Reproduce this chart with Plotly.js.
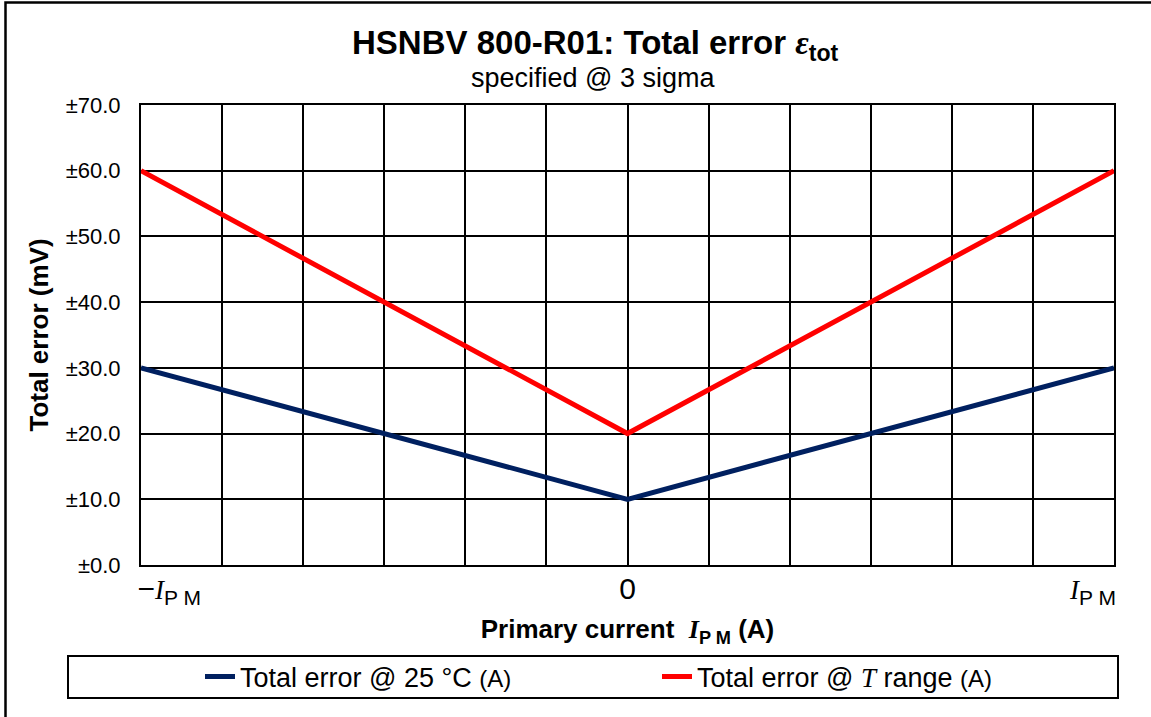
<!DOCTYPE html>
<html>
<head>
<meta charset="utf-8">
<script src="https://cdn.plot.ly/plotly-3.0.1.min.js"></script>
<style>html,body{margin:0;padding:0;background:#fff;}</style>
</head>
<body>
<div id="chart" style="width:1151px;height:717px;"></div>
<script>
// Primary current as fraction of I_PM
const currentFrac = [-1, 0, 1];
const error25C = [30, 10, 30];
const errorTRange = [60, 20, 60];
const gridFracs = [-1, -5/6, -4/6, -3/6, -2/6, -1/6, 0, 1/6, 2/6, 3/6, 4/6, 5/6, 1];
const labelFracs = [-0.942, 0, 0.957];
const serifI = '<span style="font-family:\'Liberation Serif\',\'DejaVu Serif\',serif;font-size:27px"><i>I</i></span>';
const xTickText = ['\u2212' + serifI + '<sub>P M</sub>', '0', serifI + '<sub>P M</sub>'];
const seriesNames = ['Total error @ 25 °C <span style="font-size:24px">(A)</span>',
  'Total error @ <span style="font-family:\'Liberation Serif\',serif"><i>T</i></span> range <span style="font-size:24px">(A)</span>'];

const L = 141, R = 1114, T = 105, B = 565, W = 1151, H = 717;
const px = x => (x - L) / (R - L);
const py = y => (B - y) / (B - T);

const traces = [
  {x: currentFrac, y: error25C, name: seriesNames[0], type: 'scatter', mode: 'lines',
   line: {color: '#002060', width: 5}},
  {x: currentFrac, y: errorTRange, name: seriesNames[1], type: 'scatter', mode: 'lines',
   xaxis: 'x2', line: {color: '#FF0000', width: 5}}
];

const layout = {
  width: W, height: H,
  margin: {l: L, r: W - R, t: T, b: H - B, pad: 0},
  paper_bgcolor: '#fff', plot_bgcolor: '#fff',
  font: {family: 'Liberation Sans, Arial, sans-serif', color: '#000'},
  showlegend: true,
  legend: {orientation: 'h', x: px(200), xanchor: 'left', y: py(677), yanchor: 'middle',
    font: {size: 27, color: '#000'}, entrywidth: 412, entrywidthmode: 'pixels',
    bgcolor: 'rgba(0,0,0,0)', borderwidth: 0},
  xaxis: {range: [-1, 1], tickvals: gridFracs, showticklabels: false, showgrid: true,
    gridcolor: '#000', gridwidth: 2, zeroline: false, showline: true, mirror: true,
    linecolor: '#000', linewidth: 2, ticks: '',
    title: {text: '<b>Primary current  <span style="font-family:\'Liberation Serif\',serif"><i>I</i></span><sub>P M</sub> (A)</b>',
      font: {size: 26, color: '#000'}, standoff: 54}},
  xaxis2: {matches: 'x', overlaying: 'x', side: 'bottom', tickvals: labelFracs, ticktext: xTickText,
    showgrid: false, zeroline: false, showline: false, ticks: '',
    tickfont: {size: 30, color: '#000'}, ticklabelstandoff: 3},
  yaxis: {range: [0, 70], dtick: 10, tick0: 0, tickprefix: '±', tickformat: '.1f',
    showgrid: true, gridcolor: '#000', gridwidth: 2, zeroline: false, showline: true,
    mirror: true, linecolor: '#000', linewidth: 2, ticks: '', tickfont: {size: 22, color: '#000'},
    ticklabelstandoff: 14,
    title: {text: '<b>Total error (mV)</b>', font: {size: 26, color: '#000'}, standoff: 10}},
  annotations: [
    {xref: 'paper', yref: 'paper', x: px(595), y: py(45), xanchor: 'center', yanchor: 'middle',
     showarrow: false, font: {size: 33, color: '#000'},
     text: '<b>HSNBV 800-R01: Total error <span style="font-family:\'Liberation Serif\',serif"><i>ε</i></span><sub>tot</sub></b>'},
    {xref: 'paper', yref: 'paper', x: px(593), y: py(78), xanchor: 'center', yanchor: 'middle',
     showarrow: false, font: {size: 27, color: '#000'}, text: 'specified @ 3 sigma'}
  ],
  shapes: [
    {type: 'rect', xref: 'paper', yref: 'paper', x0: px(5.5), x1: px(1165), y0: py(730), y1: py(2.5),
     line: {color: '#000', width: 2.5}, fillcolor: 'rgba(0,0,0,0)', layer: 'below'},
    {type: 'rect', xref: 'paper', yref: 'paper', x0: px(68), x1: px(1118), y0: py(698), y1: py(656),
     line: {color: '#000', width: 2}, fillcolor: 'rgba(0,0,0,0)'}
  ]
};

Plotly.newPlot('chart', traces, layout, {displayModeBar: false, staticPlot: true});
</script>
</body>
</html>
